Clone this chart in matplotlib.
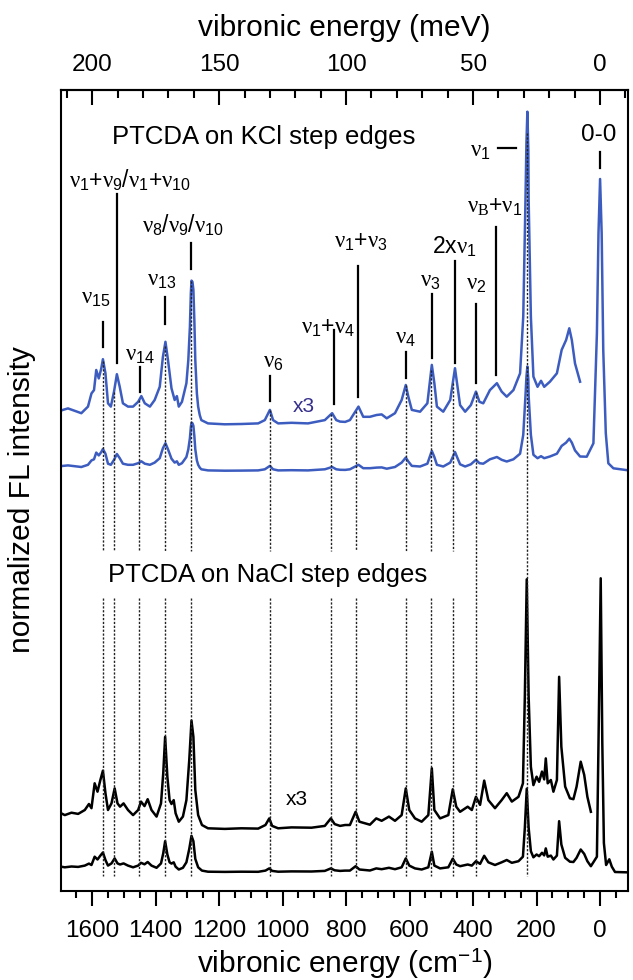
import numpy as np
import matplotlib
matplotlib.use('Agg')
import matplotlib.pyplot as plt
from matplotlib.ticker import MultipleLocator, FixedLocator

plt.rcParams['font.family'] = 'Liberation Sans'
plt.rcParams['mathtext.fontset'] = 'custom'
plt.rcParams['mathtext.rm'] = 'Liberation Sans'
plt.rcParams['mathtext.it'] = 'Liberation Serif'
plt.rcParams['mathtext.bf'] = 'Liberation Sans:bold'

# vibronic energy (cm^-1) and FL intensity (1x, arb. units), PTCDA on KCl
kcl_cm = [1707, 1692, 1676, 1655, 1634, 1613, 1602, 1594, 1587, 1579,
          1571, 1566, 1558, 1550, 1541, 1531, 1522, 1513, 1503, 1487,
          1471, 1455, 1445, 1434, 1418, 1403, 1387, 1377, 1369, 1361,
          1350, 1340, 1333, 1327, 1317, 1303, 1297, 1292, 1289, 1287,
          1284, 1281, 1278, 1275, 1270, 1266, 1261, 1256, 1235, 1182,
          1130, 1077, 1056, 1040, 1030, 1014, 972, 920, 867, 844,
          831, 819, 803, 788, 761, 746, 725, 704, 688, 672,
          646, 625, 612, 604, 593, 567, 544, 530, 522, 514,
          494, 472, 457, 449, 441, 425, 407, 391, 380, 368,
          347, 325, 310, 294, 273, 252, 242, 235, 232, 229,
          226, 225, 218, 210, 197, 186, 176, 158, 136, 121,
          107, 97, 89, 79, 63, 42, 21, 10, 5, 0,
          -5, -10, -18, -26, -42, -104]
kcl_int = [5.5, 6.1, 6.6, 5.8, 5.0, 7.2, 11.6, 12.7, 19.4, 16.6,
           20.0, 23.0, 18.3, 8.3, 7.2, 12.2, 18.0, 13.8, 8.3, 7.2,
           7.2, 8.8, 10.7, 8.3, 7.2, 9.4, 13.8, 23.8, 28.8, 22.7,
           13.3, 9.4, 10.7, 7.2, 8.8, 15.0, 22.7, 33.8, 45.0, 49.2,
           48.8, 46.1, 36.1, 22.7, 11.6, 7.2, 4.4, 2.7, 1.6, 1.3,
           1.4, 1.6, 2.7, 6.1, 2.7, 1.6, 1.8, 1.6, 2.7, 5.0,
           2.7, 2.2, 2.1, 2.7, 7.2, 3.8, 3.8, 4.4, 4.6, 3.3,
           5.0, 9.4, 14.4, 10.5, 6.1, 5.5, 8.3, 21.1, 15.0, 7.2,
           5.5, 9.4, 20.0, 13.8, 7.7, 5.5, 7.7, 12.2, 8.8, 8.3,
           12.7, 15.0, 12.2, 10.5, 12.7, 18.3, 37.2, 76.1, 95.0, 105.5,
           92.7, 76.1, 37.2, 17.2, 13.8, 15.8, 13.8, 15.5, 18.3, 26.1,
           29.4, 33.3, 29.4, 21.6, 15.5, 15.3, 28.7, 138.7, 238.7, 293.0,
           238.7, 122.0, 38.7, 8.7, 3.7, 1.0]

# PTCDA on NaCl
nacl_cm = [1707, 1686, 1665, 1644, 1623, 1610, 1602, 1592, 1583, 1574,
           1566, 1558, 1550, 1539, 1529, 1520, 1512, 1501, 1487, 1471,
           1455, 1446, 1435, 1425, 1413, 1397, 1383, 1376, 1370, 1363,
           1356, 1350, 1343, 1337, 1327, 1314, 1303, 1294, 1287, 1281,
           1275, 1266, 1254, 1235, 1182, 1130, 1077, 1054, 1042, 1033,
           1014, 972, 909, 867, 848, 836,
           819, 803, 788, 770, 758, 725, 705, 688, 665, 646,
           625, 612, 601, 583, 562, 541, 530, 522, 504, 478,
           464, 453, 441, 417, 404, 391, 378, 365, 352, 331,
           310, 294, 278, 257, 243, 237, 231, 225, 218, 210,
           200, 192, 183, 176, 171, 165, 155, 147, 136, 129,
           122, 110, 95, 84, 74, 61, 50, 40, 29, 10,
           5, -2, -7, -12, -19, -29, -37, -47, -104]
nacl_int = [6.8, 5.7, 6.5, 6.1, 7.4, 9.4, 8.0, 16.3, 13.5, 17.4,
            20.5, 13.0, 7.4, 9.6, 14.6, 9.6, 8.5, 9.6, 7.4, 5.7,
            7.4, 10.2, 8.7, 11.0, 7.4, 5.2, 9.6, 19.6, 31.8, 18.5,
            10.7, 9.4, 10.7, 6.3, 3.5, 5.2, 10.7, 24.1, 37.2, 31.8,
            14.1, 5.7, 2.4, 1.3, 1.1, 1.3, 1.2, 2.4, 4.6, 2.1,
            1.3, 1.6, 1.5, 2.1, 4.6, 2.7,
            2.1, 2.4, 2.4, 6.8, 3.5, 2.5, 4.6, 3.8, 5.2, 3.8,
            5.7, 14.6, 7.4, 4.6, 3.5, 5.7, 21.3, 7.4, 4.6, 5.7,
            14.3, 8.5, 6.8, 8.5, 7.4, 11.8, 9.1, 17.2, 10.7, 8.0,
            10.7, 13.0, 10.2, 11.8, 16.3, 45.2, 84.3, 45.2, 21.8, 15.7,
            18.5, 16.8, 20.2, 17.6, 24.6, 16.3, 17.4, 13.5, 17.4, 51.8,
            28.5, 15.2, 11.3, 11.0, 15.2, 23.5, 19.1, 11.8, 6.8, 16.3,
            130.0, 294.7, 130.0, 30.0, 8.0, 13.7, 6.3, 1.0, 0.5]

# mode positions marked by dotted lines (cm^-1)
mode_cm = [1565, 1531, 1451, 1371, 1287, 1040, 846, 770, 612, 532, 464, 392, 231]
# modes whose dotted line is not broken by the NaCl caption
through_modes = [392, 231]

kcl_cm = np.array(kcl_cm)
kcl_int = np.array(kcl_int)
nacl_cm = np.array(nacl_cm)
nacl_int = np.array(nacl_int)

# vertical stacking of the traces
kcl_off1, kcl_off3 = 419.0, 462.8
nacl_off1, nacl_off3 = 18.0, 58.8
blue = '#3c5cc0'

fig = plt.figure(figsize=(6.33, 9.8), dpi=100)
ax = fig.add_axes([61 / 633, 89 / 980, 566.7 / 633, 801 / 980])

# x3 traces stop before the 0-0 line
m = kcl_cm >= 63
ax.plot(kcl_cm[m], kcl_off3 + 3 * kcl_int[m], color=blue, lw=1.8, zorder=2)
ax.plot(kcl_cm, kcl_off1 + kcl_int, color=blue, lw=1.8, zorder=2)
m = nacl_cm >= 29
ax.plot(nacl_cm[m], nacl_off3 + 3 * nacl_int[m], color='black', lw=1.8, zorder=2)
ax.plot(nacl_cm, nacl_off1 + nacl_int, color='black', lw=1.8, zorder=2)

# dotted guides from the KCl peaks down to the NaCl spectra
top_curve = kcl_off3 + 3 * kcl_int
for x in mode_cm:
    ytop = np.interp(x, kcl_cm[::-1], top_curve[::-1])
    if x in through_modes:
        segs = [(ytop, 15)]
    else:
        segs = [(ytop, 340), (293, 15)]
    for y0, y1 in segs:
        ax.plot([x, x], [y0, y1], color='#222222', lw=1.0,
                ls=(0, (1.6, 1.2)), zorder=3)

# assignment ticks above the peaks: (x, y top, y bottom)
marks = [(1565, 569, 544), (1523, 697, 528), (1448, 524, 499),
         (1369, 594, 567), (1289, 648, 622), (1040, 515, 490),
         (839, 561, 487), (761, 625, 494), (612, 539, 513),
         (530, 597, 533), (457, 630, 528), (392, 587, 508),
         (328, 664, 516), (0, 739, 723)]
for x, y0, y1 in marks:
    ax.plot([x, x], [y0, y1], color='black', lw=1.6, zorder=4)
ax.plot([322, 266], [743, 743], color='black', lw=1.6, zorder=4)

nu_size = 16.5
labels = [
    (1480, 711, r'$\nu_1$+$\nu_9$/$\nu_1$+$\nu_{10}$'),
    (1315, 666, r'$\nu_8$/$\nu_9$/$\nu_{10}$'),
    (1380, 612, r'$\nu_{13}$'),
    (1589, 594, r'$\nu_{15}$'),
    (1449, 537, r'$\nu_{14}$'),
    (1030, 530, r'$\nu_6$'),
    (857, 564, r'$\nu_1$+$\nu_4$'),
    (753, 650, r'$\nu_1$+$\nu_3$'),
    (613, 554, r'$\nu_4$'),
    (535, 611, r'$\nu_3$'),
    (460, 644, r'2x$\nu_1$'),
    (391, 608, r'$\nu_2$'),
    (331, 685, r'$\nu_B$+$\nu_1$'),
    (378, 741, r'$\nu_1$'),
]
for x, y, s in labels:
    ax.text(x, y, s, fontsize=nu_size, ha='center', va='center', zorder=5)

ax.text(3, 756, '0-0', fontsize=17.5, ha='center', va='center')
ax.text(1058, 754, 'PTCDA on KCl step edges', fontsize=18.5,
        ha='center', va='center')
ax.text(1046, 316, 'PTCDA on NaCl step edges', fontsize=18.5,
        ha='center', va='center')
ax.text(932, 485, 'x3', fontsize=15, color='#352f8c', ha='center', va='center')
ax.text(954, 92, 'x3', fontsize=15, color='black', ha='center', va='center')

ax.set_xlim(1698, -87)
ax.set_ylim(0, 801)
ax.set_yticks([])

ax.xaxis.set_major_locator(MultipleLocator(200))
ax.xaxis.set_minor_locator(MultipleLocator(50))
ax.tick_params(axis='x', which='major', direction='out', length=10.8,
               width=1.5, pad=10.4, labelsize=17.5)
ax.tick_params(axis='x', which='minor', direction='out', length=4.8, width=1.5)
ax.set_xlabel('vibronic energy (cm$^{\\mathregular{-1}}$)', fontsize=21.5,
              labelpad=3.5)
fig.text(22 / 633, 1 - 500 / 980, 'normalized FL intensity', fontsize=21.5,
         rotation=90, ha='center', va='center')
for sp in ax.spines.values():
    sp.set_linewidth(1.5)

top = ax.secondary_xaxis('top', functions=(lambda x: x / 8.0, lambda e: e * 8.0))
top.xaxis.set_major_locator(FixedLocator([0, 50, 100, 150, 200]))
top.xaxis.set_minor_locator(MultipleLocator(10))
top.tick_params(which='major', direction='in', length=10.8, width=1.5,
                pad=10, labelsize=17.5)
top.tick_params(which='minor', direction='in', length=6, width=1.5)
top.set_xlabel('vibronic energy (meV)', fontsize=21.5, labelpad=13)
top.spines['top'].set_linewidth(1.5)

fig.savefig('out.png', dpi=100)
